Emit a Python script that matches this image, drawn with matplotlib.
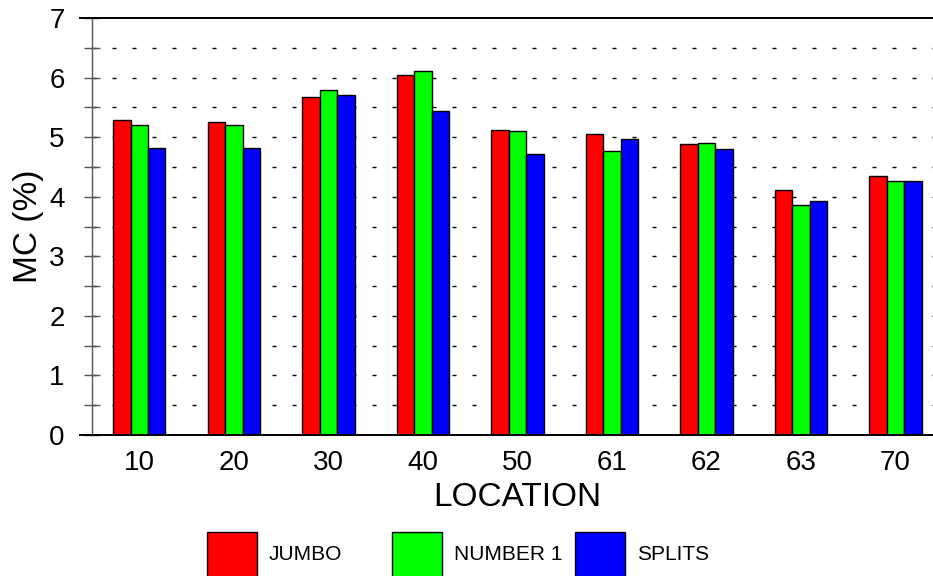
import matplotlib
matplotlib.use("Agg")
import matplotlib.pyplot as plt
import numpy as np
from matplotlib.patches import Rectangle
from matplotlib.lines import Line2D

plt.rcParams['font.family'] = ['Liberation Sans', 'DejaVu Sans']

locations = ["10", "20", "30", "40", "50", "61", "62", "63", "70"]
series_names = ["JUMBO", "NUMBER 1", "SPLITS"]
jumbo = [5.28, 5.25, 5.67, 6.05, 5.12, 5.05, 4.89, 4.11, 4.35]
number1 = [5.21, 5.20, 5.79, 6.11, 5.11, 4.77, 4.91, 3.86, 4.27]
splits = [4.82, 4.82, 5.71, 5.44, 4.71, 4.97, 4.80, 3.93, 4.26]
colors = ["#ff0000", "#00ff00", "#0000ff"]
yticks = [0, 1, 2, 3, 4, 5, 6, 7]

W, H = 933, 576
fig = plt.figure(figsize=(W / 100, H / 100), dpi=100)
ax = fig.add_axes([92 / W, 1 - 435 / H, (942.7 - 92) / W, (435 - 18) / H])

x = np.arange(len(locations))
bw = 0.185
for i, (vals, c, name) in enumerate(zip([jumbo, number1, splits], colors, series_names)):
    ax.bar(x + (i - 1) * bw, vals, width=bw, color=c, edgecolor="black",
           linewidth=1.0, zorder=3, label=name)

ax.set_xlim(-0.5, 8.5)
ax.set_ylim(0, 7)
ax.set_xticks(x)
ax.set_xticklabels(locations, fontsize=20)
ax.tick_params(axis='x', length=0, pad=11)
ax.set_yticks(yticks)
ax.set_yticklabels([str(t) for t in yticks], fontsize=20)
ax.set_yticks(np.arange(0.5, 7, 1.0), minor=True)
ax.tick_params(axis='y', which='both', direction='inout', length=11.5, width=1.0,
               color='#555555')
ax.tick_params(axis='y', which='major', pad=14)

# dotted gridlines at every half unit
for v in np.arange(0.5, 7, 0.5):
    ax.axhline(v, color='black', linewidth=1.0, dashes=(2.9, 11.5), zorder=1)

ax.spines['right'].set_visible(False)
ax.spines['top'].set_visible(False)
ax.spines['bottom'].set_visible(False)
ax.spines['left'].set_color('#555555')
ax.spines['left'].set_linewidth(1.0)

# top and bottom frame lines extending slightly left of the axis
fig.add_artist(Line2D([80 / W, 1], [1 - 18 / H, 1 - 18 / H], color='black', linewidth=1.4))
fig.add_artist(Line2D([80 / W, 1], [1 - 435 / H, 1 - 435 / H], color='black', linewidth=1.4))

ax.set_xlabel("LOCATION", fontsize=24, labelpad=4)
ax.set_ylabel("MC (%)", fontsize=24, labelpad=4)

# legend drawn below
leg_x = [207, 392, 575]
for lx, c, name in zip(leg_x, colors, series_names):
    fig.add_artist(Rectangle((lx / W, 1 - 590 / H), 50 / W, 58 / H,
                             facecolor=c, edgecolor='black', linewidth=1.0,
                             transform=fig.transFigure))
    fig.text((lx + 62) / W, 1 - 554 / H, name, fontsize=15, va='center', ha='left')

fig.savefig("out.png", dpi=100)
